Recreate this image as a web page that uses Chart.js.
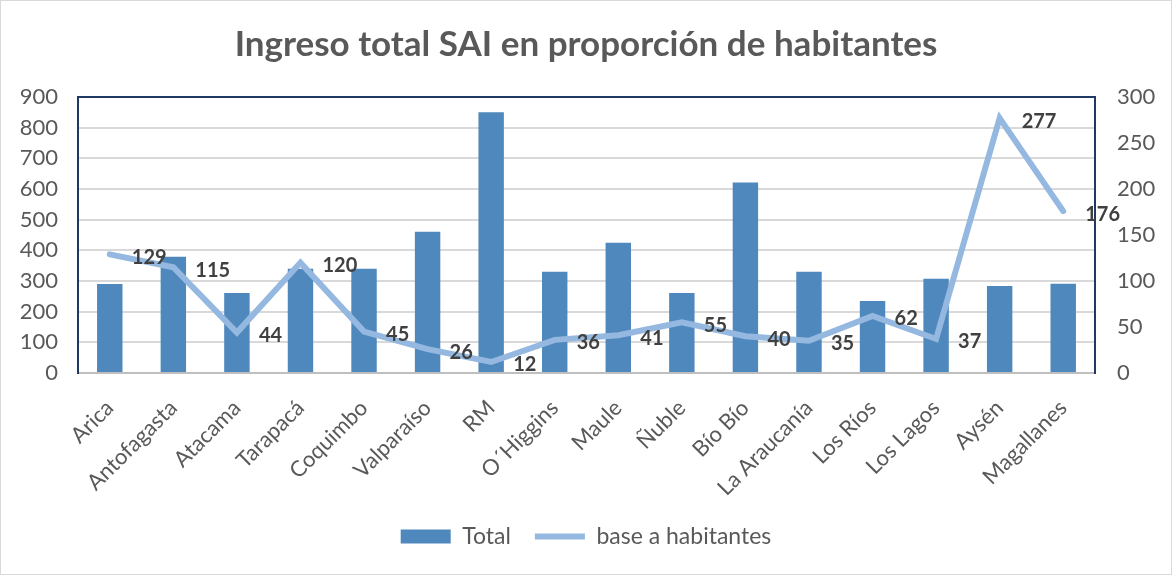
<!DOCTYPE html>
<html>
<head>
<meta charset="utf-8">
<script src="https://cdn.jsdelivr.net/npm/chart.js@4.4.0/dist/chart.umd.min.js"></script>
<style>
  body { margin: 0; background: #fff; }
  #wrap { width: 1172px; height: 575px; box-sizing: border-box; border: 1px solid #d9d9d9; }
</style>
</head>
<body>
<div id="wrap"><canvas id="sai"></canvas></div>
<script>
var regions = ["Arica","Antofagasta","Atacama","Tarapacá","Coquimbo","Valparaíso","RM","O´Higgins","Maule","Ñuble","Bío Bío","La Araucanía","Los Ríos","Los Lagos","Aysén","Magallanes"];
var totals = [290,379,261,340,340,461,850,330,425,261,621,330,235,307,284,291];
var perHab = [129,115,44,120,45,26,12,36,41,55,40,35,62,37,277,176];

var FONT = "Lato, 'Open Sans', sans-serif";
var navy = '#1f3864';

// labels to the right of each line point
var pointLabels = {
  id: 'pointLabels',
  afterDatasetsDraw: function(chart) {
    var meta = chart.getDatasetMeta(1);
    var ctx = chart.ctx;
    ctx.save();
    ctx.font = 'bold 20px ' + FONT;
    ctx.fillStyle = '#404040';
    ctx.textAlign = 'left';
    ctx.textBaseline = 'middle';
    meta.data.forEach(function(pt, i) {
      ctx.fillText(perHab[i], pt.x + 22, pt.y + 3);
    });
    ctx.restore();
  }
};

var ctx = document.getElementById('sai');
var chart = new Chart(ctx, {
  type: 'bar',
  data: {
    labels: regions,
    datasets: [{
        label: 'Total',
        data: totals,
        backgroundColor: '#4f88bc',
        barPercentage: 0.8,
        categoryPercentage: 0.5,
        yAxisID: 'y',
        order: 1,
        pointStyle: 'rect'
      }, {
        type: 'line',
        label: 'base a habitantes',
        data: perHab,
        borderColor: '#95b8e0',
        backgroundColor: '#95b8e0',
        borderWidth: 6,
        borderCapStyle: 'round',
        pointRadius: 0,
        lineTension: 0,
        yAxisID: 'y1',
        order: 0,
        pointStyle: 'line'
      }
    ]
  },
  options: {
    responsive: true,
    maintainAspectRatio: false,
    animation: false,
    layout: { padding: { bottom: 16 } },
    plugins: {
      title: {
        display: true,
        text: 'Ingreso total SAI en proporción de habitantes',
        color: '#595959',
        font: { family: FONT, size: 35, weight: 'bold' },
        padding: { top: 23, bottom: 31 }
      },
      legend: {
        position: 'bottom',
        labels: {
          usePointStyle: true,
          pointStyleWidth: 50,
          boxHeight: 14,
          color: '#595959',
          font: { family: FONT, size: 23 },
          padding: 24,
          sort: function(a, b) { return a.datasetIndex - b.datasetIndex; }
        }
      },
      tooltip: { enabled: false }
    },
    scales: {
      x: {
        grid: { display: false },
        border: { display: true, color: '#bfbfbf', width: 2 },
        ticks: {
          color: '#595959',
          font: { family: FONT, size: 22 },
          maxRotation: 45,
          minRotation: 45,
          autoSkip: false,
          padding: 14
        },
        afterFit: function(s) { s.height = 128; }
      },
      y: {
        position: 'left',
        min: 0,
        max: 900,
        ticks: { stepSize: 100, color: '#595959', font: { family: FONT, size: 22 }, padding: 20 },
        grid: {
          drawTicks: false,
          lineWidth: 2,
          color: function(c) { return c.tick && c.tick.value === 900 ? navy : '#d9d9d9'; }
        },
        border: { display: true, color: navy, width: 2 },
        afterFit: function(s) { s.width = 77; }
      },
      y1: {
        position: 'right',
        min: 0,
        max: 300,
        ticks: { stepSize: 50, color: '#595959', font: { family: FONT, size: 22 }, padding: 22 },
        grid: { drawOnChartArea: false, drawTicks: false },
        border: { display: true, color: navy, width: 2 },
        afterFit: function(s) { s.width = 76; }
      }
    }
  },
  plugins: [pointLabels]
});
</script>
</body>
</html>
